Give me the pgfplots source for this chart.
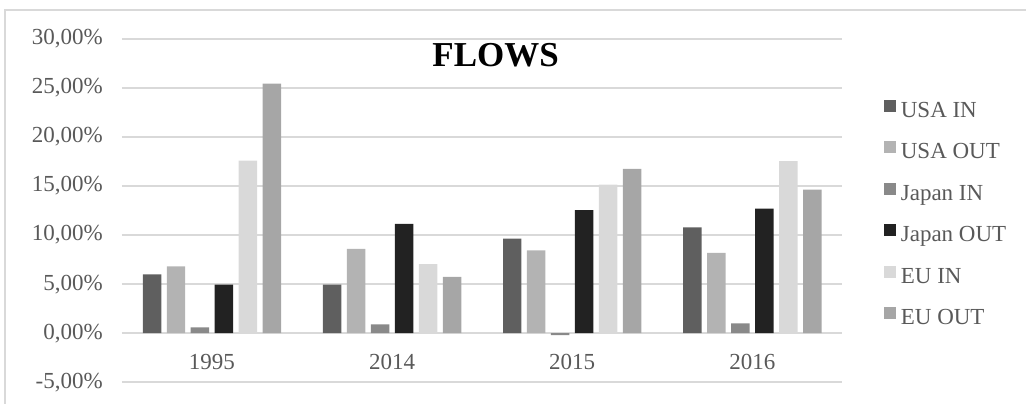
\documentclass[border=0pt]{standalone}
\usepackage{fontspec}
\setmainfont{Liberation Serif}
\usepackage{pgfplots}
\pgfplotsset{compat=1.18}

\definecolor{txt}{HTML}{595959}
\definecolor{gridc}{HTML}{D9D9D9}
\definecolor{usain}{HTML}{5F5F5F}
\definecolor{usaout}{HTML}{B3B3B3}
\definecolor{japin}{HTML}{898989}
\definecolor{japout}{HTML}{222222}
\definecolor{euin}{HTML}{D9D9D9}
\definecolor{euout}{HTML}{A6A6A6}

\begin{document}
\begin{tikzpicture}
% page size (1px = 1pt), axis box lower left at pixel (122, 382.5)
\path (-122pt,-21.5pt) rectangle (905pt,382.5pt);
\draw[gridc, line width=1.5pt] (-117pt,-21.5pt) -- (-117pt,372.5pt) -- (905pt,372.5pt);

\begin{axis}[
    at={(0pt,0pt)}, anchor=south west,
    scale only axis,
    width=721pt, height=343.5pt,
    ybar=5.5pt, bar width=18.5pt,
    xmin=-0.5, xmax=3.5, ymin=-5, ymax=30,
    enlargelimits=false,
    xtick={0,1,2,3},
    xticklabels={1995,2014,2015,2016},
    ytick={-5,0,5,10,15,20,25,30},
    yticklabels={{-5,00\%},{0,00\%},{5,00\%},{10,00\%},{15,00\%},{20,00\%},{25,00\%},{30,00\%}},
    axis x line*=bottom, axis y line*=left,
    axis line style={draw=none},
    tick style={draw=none},
    major tick length=0pt,
    xmajorgrids=false, ymajorgrids=true,
    y grid style={color=gridc, line width=1.5pt},
    ticklabel style={font=\fontsize{23}{27}\selectfont, text=txt, inner sep=0pt},
    yticklabel style={anchor=east, xshift=-19pt},
    xticklabel style={anchor=base, yshift=12.5pt},
    legend style={
        at={(axis description cs:1.0583,0.822)}, anchor=north west,
        draw=none, fill=none, inner sep=0pt, outer sep=0pt,
        font=\fontsize{23}{27}\selectfont, text=txt,
        nodes={inner sep=0pt, text height=16pt, text depth=5pt},
        row sep=18.9pt, column sep=4.5pt,
    },
    legend cell align=left,
    legend image code/.code={\fill[#1] (0pt,0pt) rectangle (12pt,12pt);},
]
\addplot[fill=usain, draw=none] coordinates {(0,6.0) (1,4.95) (2,9.65) (3,10.8)};
\addplot[fill=usaout, draw=none] coordinates {(0,6.8) (1,8.6) (2,8.45) (3,8.2)};
\addplot[fill=japin, draw=none] coordinates {(0,0.6) (1,0.9) (2,-0.2) (3,1.0)};
\addplot[fill=japout, draw=none] coordinates {(0,4.95) (1,11.15) (2,12.55) (3,12.7)};
\addplot[fill=euin, draw=none] coordinates {(0,17.6) (1,7.05) (2,15.15) (3,17.55)};
\addplot[fill=euout, draw=none] coordinates {(0,25.45) (1,5.75) (2,16.75) (3,14.65)};
\legend{USA IN, USA OUT, Japan IN, Japan OUT, EU IN, EU OUT}
\end{axis}

\node[font=\fontsize{35}{40}\selectfont\bfseries, text=black] at (374pt,327.5pt) {FLOWS};
\end{tikzpicture}
\end{document}
